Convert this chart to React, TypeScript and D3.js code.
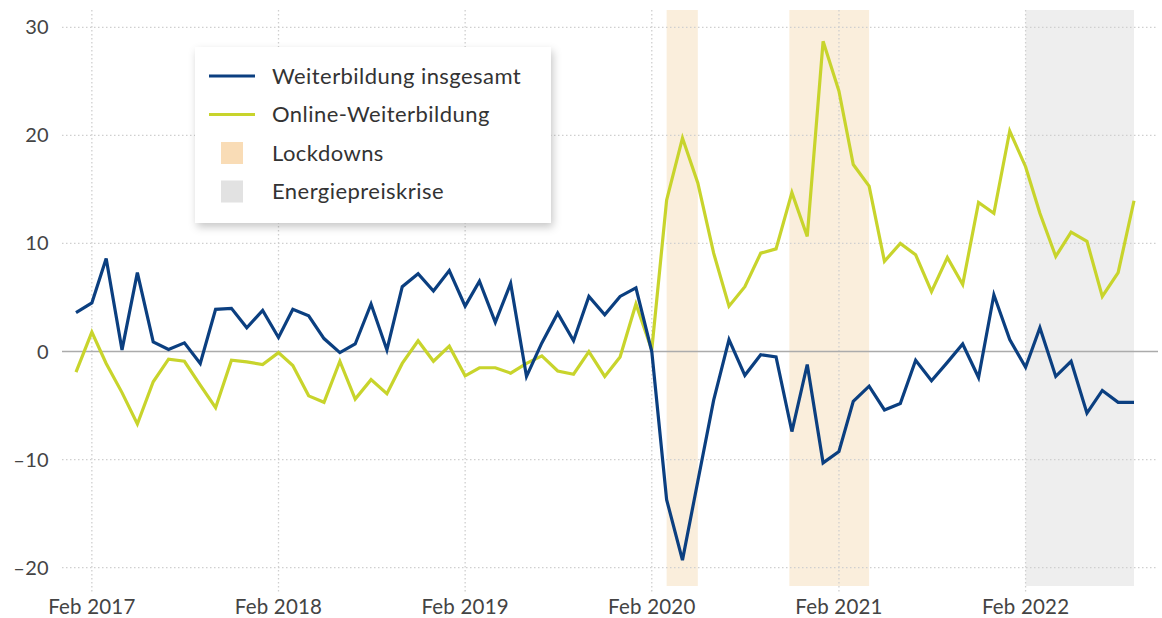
import React from "react";
import * as d3 from "d3";

const W = 1162;
const H = 618;

const startMonth = new Date(2017, 0, 1);
const monthCount = 69;
const months: Date[] = d3.timeMonth.range(startMonth, d3.timeMonth.offset(startMonth, monthCount));

const gesamt: number[] = [
  3.6, 4.5, 8.6, 0.15, 7.3, 0.9, 0.2, 0.8, -1.1, 3.9, 4.0, 2.2,
  3.8, 1.3, 3.9, 3.3, 1.2, -0.1, 0.7, 4.4, 0.15, 6.0, 7.2, 5.6,
  7.5, 4.2, 6.5, 2.7, 6.3, -2.3, 0.8, 3.55, 1.0, 5.1, 3.4, 5.1,
  5.9, 0.0, -13.7, -19.3, -12.0, -4.5, 1.1, -2.2, -0.3, -0.5, -7.4, -1.2,
  -10.3, -9.25, -4.6, -3.2, -5.4, -4.8, -0.8, -2.7, -1.0, 0.7, -2.4, 5.25,
  1.1, -1.45, 2.2, -2.3, -0.9, -5.7, -3.6, -4.7, -4.7,
];

const online: number[] = [
  -1.9, 1.8, -1.1, -3.8, -6.7, -2.8, -0.7, -0.9, -3.1, -5.2, -0.8, -0.95,
  -1.2, -0.1, -1.3, -4.1, -4.7, -0.9, -4.4, -2.6, -3.9, -1.1, 1.0, -0.9,
  0.5, -2.25, -1.5, -1.5, -2.0, -1.1, -0.4, -1.8, -2.1, 0.0, -2.3, -0.5,
  4.4, 0.15, 14.0, 19.75, 15.6, 9.1, 4.2, 6.0, 9.1, 9.5, 14.7, 10.65,
  28.7, 24.1, 17.3, 15.3, 8.35, 10.0, 8.95, 5.55, 8.7, 6.2, 13.8, 12.8,
  20.4, 17.1, 12.8, 8.8, 11.05, 10.2, 5.1, 7.3, 13.95,
];

const lockdowns: [Date, Date][] = [
  [new Date(2020, 2, 1), new Date(2020, 4, 1)],
  [new Date(2020, 9, 27), new Date(2021, 3, 1)],
];
const energiekrise: [Date, Date][] = [[new Date(2022, 1, 1), new Date(2022, 8, 1)]];

const yTicks: number[] = [-20, -10, 0, 10, 20, 30];
const xTicks: Date[] = [2017, 2018, 2019, 2020, 2021, 2022].map((y) => new Date(y, 1, 1));
const xTickFormat = (d: Date) => `Feb ${d.getFullYear()}`;

const legendItems = [
  { label: "Weiterbildung insgesamt", kind: "line", color: "#0b3f80" },
  { label: "Online-Weiterbildung", kind: "line", color: "#c8d42c" },
  { label: "Lockdowns", kind: "rect", color: "#f9dcb6" },
  { label: "Energiepreiskrise", kind: "rect", color: "#e2e2e2" },
];

const BLUE = "#0b3f80";
const GREEN = "#c8d42c";
const FONT = "'Source Sans Pro', Lato, 'Noto Sans', sans-serif";

export default function App() {
  const x = d3
    .scaleTime()
    .domain([months[0], months[months.length - 1]])
    .range([76, 1134]);
  const y = d3.scaleLinear().domain([-20, 30]).range([567.7, 27.3]);

  const plotLeft = 62;
  const plotRight = 1158;
  const plotTop = 10;
  const plotBottom = 586;

  const line = d3
    .line<number>()
    .x((_, i) => x(months[i]))
    .y((d) => y(d));

  return (
    <svg
      width={W}
      height={H}
      style={{ position: "absolute", left: 0, top: 0, background: "#fff" }}
      fontFamily={FONT}
    >
      <defs>
        <filter id="shadow" x="-10%" y="-10%" width="125%" height="130%">
          <feDropShadow dx="2" dy="4" stdDeviation="4" floodColor="#000" floodOpacity="0.22" />
        </filter>
      </defs>
      <rect x={0} y={0} width={W} height={H} fill="#fff" />
      {lockdowns.map(([a, b], i) => (
        <rect key={"l" + i} x={x(a)} y={plotTop} width={x(b) - x(a)} height={plotBottom - plotTop} fill="#faeedc" />
      ))}
      {energiekrise.map(([a, b], i) => (
        <rect key={"e" + i} x={x(a)} y={plotTop} width={x(b) - x(a)} height={plotBottom - plotTop} fill="#eeeeee" />
      ))}
      {xTicks.map((t, i) => (
        <line
          key={"vx" + i}
          x1={x(t)}
          x2={x(t)}
          y1={plotTop}
          y2={592}
          stroke="#cfcfcf"
          strokeWidth={1.3}
          strokeDasharray="1.5 2.5"
        />
      ))}
      {yTicks
        .filter((t) => t !== 0)
        .map((t) => (
          <line
            key={"hy" + t}
            x1={plotLeft}
            x2={plotRight}
            y1={y(t)}
            y2={y(t)}
            stroke="#cfcfcf"
            strokeWidth={1.3}
            strokeDasharray="1.5 2.5"
          />
        ))}
      <line x1={plotLeft} x2={plotRight} y1={y(0)} y2={y(0)} stroke="#ababab" strokeWidth={1.5} />
      {yTicks.map((t) => (
        <text key={"yt" + t} x={49} y={y(t)} dy="0.35em" textAnchor="end" fontSize={20} letterSpacing={0.3} fill="#444">
          {t < 0 ? "\u2013" + Math.abs(t) : t}
        </text>
      ))}
      {xTicks.map((t, i) => (
        <text key={"xt" + i} x={x(t)} y={614} textAnchor="middle" fontSize={20.5} letterSpacing={0.2} fill="#444">
          {xTickFormat(t)}
        </text>
      ))}
      <path d={line(online) || ""} fill="none" stroke={GREEN} strokeWidth={3.2} strokeLinejoin="miter" />
      <path d={line(gesamt) || ""} fill="none" stroke={BLUE} strokeWidth={3.2} strokeLinejoin="miter" />

      <g>
        <rect x={195} y={47} width={356} height={176} fill="#fff" filter="url(#shadow)" />
        {legendItems.map((it, i) => {
          const cy = 76 + i * 38.5;
          return (
            <g key={"lg" + i}>
              {it.kind === "line" ? (
                <line x1={209} x2={255} y1={cy} y2={cy} stroke={it.color} strokeWidth={3} />
              ) : (
                <rect x={221} y={cy - 11} width={22} height={22} fill={it.color} />
              )}
              <text x={272} y={cy} dy="0.35em" fontSize={22} letterSpacing={0.45} fill="#333">
                {it.label}
              </text>
            </g>
          );
        })}
      </g>
    </svg>
  );
}
